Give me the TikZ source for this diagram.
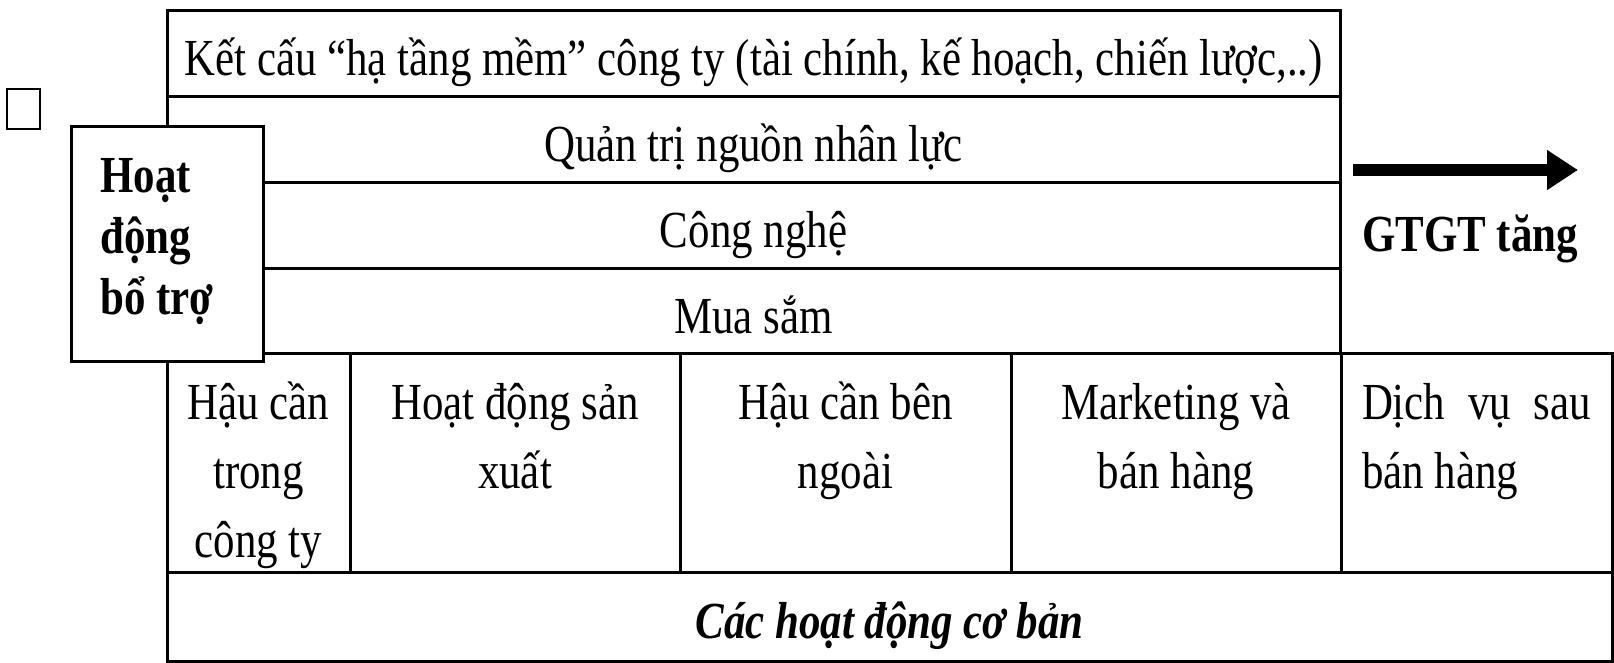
\documentclass[tikz,border=0pt]{standalone}
\usepackage{fontspec}
\setmainfont{Liberation Serif}[FakeStretch=0.825]
\usetikzlibrary{arrows.meta, positioning}

\begin{document}
\begin{tikzpicture}[
    node distance=0pt,
    row/.style={rectangle, draw, line width=1.5pt, minimum width=586.5pt,
                minimum height=42.875pt, inner sep=0pt, outer sep=0pt,
                text height=26pt, text depth=4pt, font=\fontsize{26pt}{30pt}\selectfont},
    cell/.style={rectangle, draw, line width=1.5pt, minimum height=109.5pt,
                inner sep=0pt, outer sep=0pt},
    celltext/.style={anchor=base, align=flush center, inner sep=0pt,
                font=\fontsize{26pt}{34.5pt}\selectfont},
]
\useasboundingbox (0,0) rectangle (807pt,-331.5pt);

% Support rows
\node[row, anchor=north west] (infra) at (83.5pt,-5.5pt)
    {Kết cấu “hạ tầng mềm” công ty (tài chính, kế hoạch, chiến lược,..)};
\node[row, below=of infra] (hr) {Quản trị nguồn nhân lực};
\node[row, below=of hr] (tech) {Công nghệ};
\node[row, below=of tech] (procure) {Mua sắm};

% Primary cells
\node[cell, anchor=north west, minimum width=91.5pt] (inbound) at (procure.south west) {};
\node[cell, right=of inbound, minimum width=165pt] (operations) {};
\node[cell, right=of operations, minimum width=165.5pt] (outbound) {};
\node[cell, right=of outbound, minimum width=165pt] (marketing) {};
\node[cell, right=of marketing, minimum width=135.5pt] (service) {};

\node[celltext, text width=87pt] (inboundtext) at ([yshift=-33pt]inbound.north)
    {Hậu cần\\trong\\công ty};
\node[celltext, text width=155pt] (operationstext) at ([yshift=-33pt]operations.north)
    {Hoạt động sản\\xuất};
\node[celltext, text width=155pt] (outboundtext) at ([yshift=-33pt]outbound.north)
    {Hậu cần bên\\ngoài};
\node[celltext, text width=155pt] (marketingtext) at ([yshift=-33pt]marketing.north)
    {Marketing và\\bán hàng};
\node[celltext, text width=114.5pt, align=flush left] (servicetext) at ([yshift=-33pt]service.north)
    {Dịch\hfill vụ\hfill sau\\bán hàng};

% Primary label
\node[cell, anchor=north west, minimum width=722.5pt, minimum height=44pt,
      text height=26pt, text depth=4pt,
      font=\fontsize{26pt}{30pt}\selectfont\bfseries\itshape] (basic) at (inbound.south west)
    {Các hoạt động cơ bản};

% Support label
\node[rectangle, draw, fill=white, line width=1.5pt, outer sep=0pt, anchor=north west,
      minimum width=96pt, minimum height=117.5pt] (support) at (35.5pt,-63.5pt) {};
\node[anchor=base west, inner sep=0pt, text width=70pt, align=flush left,
      font=\fontsize{26pt}{30.5pt}\selectfont\bfseries] (supporttext)
    at ([xshift=14.5pt, yshift=-33pt]support.north west) {Hoạt\\động\\bổ trợ};

\node[rectangle, draw, line width=1pt, minimum width=16.5pt, minimum height=20pt,
      inner sep=0pt, outer sep=0pt, anchor=north west] (blank) at (3.5pt,-44.5pt) {};

% Value arrow
\coordinate (arrowstart) at (676.5pt,-85pt);
\coordinate (arrowend) at (789pt,-85pt);
\draw[-{Triangle[length=15.5pt, width=19pt]}, line width=6pt] (arrowstart) -- (arrowend);
\node[anchor=base, inner sep=0pt, font=\fontsize{26pt}{30pt}\selectfont\bfseries] (gain)
    at (735pt,-126pt) {GTGT tăng};

\end{tikzpicture}
\end{document}
